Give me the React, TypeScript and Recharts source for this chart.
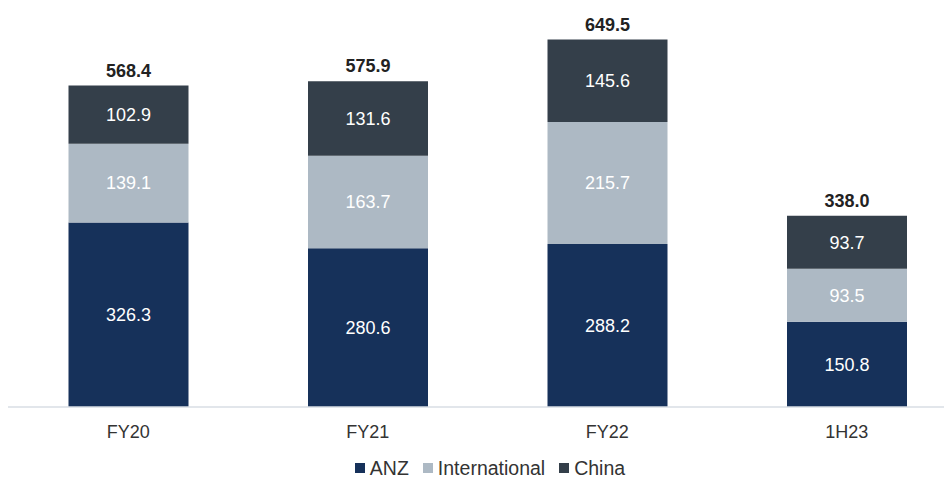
import React from "react";
import { BarChart, Bar, XAxis, YAxis, Legend, LabelList } from "recharts";

const categories = ["FY20", "FY21", "FY22", "1H23"];
const anz = [326.3, 280.6, 288.2, 150.8];
const international = [139.1, 163.7, 215.7, 93.5];
const china = [102.9, 131.6, 145.6, 93.7];
const totals = [568.4, 575.9, 649.5, 338.0];

const data = categories.map((c, i) => ({
  name: c,
  ANZ: anz[i],
  International: international[i],
  China: china[i],
  total: totals[i],
}));

const COLORS = { ANZ: "#16315A", International: "#ADB9C4", China: "#343F4A" };
const FONT = "Arial, 'Liberation Sans', sans-serif";
const LEGEND_KEYS = ["ANZ", "International", "China"] as const;

const renderLegend = () => (
  <div style={{ display: "flex", justifyContent: "center", fontFamily: FONT, fontSize: 19.5, color: "#333", lineHeight: "20px" }}>
    {LEGEND_KEYS.map((k, i) => (
      <span key={k} style={{ display: "inline-flex", alignItems: "center", marginRight: i < 2 ? 14 : 0 }}>
        <span style={{ width: 10, height: 10, background: COLORS[k], display: "inline-block", marginRight: 5 }} />
        {k}
      </span>
    ))}
  </div>
);

export default function App() {
  return (
    <div style={{ fontFamily: FONT }}>
      <BarChart
        width={936}
        height={474}
        data={data}
        margin={{ top: 3, right: 0, bottom: 0, left: 0 }}
        barCategoryGap={60}
      >
        <XAxis
          dataKey="name"
          padding={{ left: 0.5, right: -22.5 }}
          tickLine={false}
          axisLine={{ stroke: "#D9DEE4", strokeWidth: 1.5 }}
          tick={{ fill: "#333", fontSize: 18, fontFamily: FONT }}
          tickMargin={12}
          height={45}
        />
        <YAxis hide domain={[0, 700]} />
        <Legend content={renderLegend} verticalAlign="bottom" height={30} wrapperStyle={{ top: 450, left: 14 }} />
        <Bar dataKey="ANZ" stackId="a" fill={COLORS.ANZ} isAnimationActive={false}>
          <LabelList dataKey="ANZ" position="center" fill="#fff" fontSize={18} fontFamily={FONT} formatter={(v: number) => v.toFixed(1)} />
        </Bar>
        <Bar dataKey="International" stackId="a" fill={COLORS.International} isAnimationActive={false}>
          <LabelList dataKey="International" position="center" fill="#fff" fontSize={18} fontFamily={FONT} formatter={(v: number) => v.toFixed(1)} />
        </Bar>
        <Bar dataKey="China" stackId="a" fill={COLORS.China} isAnimationActive={false}>
          <LabelList dataKey="China" position="center" fill="#fff" fontSize={18} fontFamily={FONT} formatter={(v: number) => v.toFixed(1)} />
          <LabelList dataKey="total" position="top" offset={9} fill="#222" fontSize={18} fontWeight="bold" fontFamily={FONT} formatter={(v: number) => v.toFixed(1)} />
        </Bar>
      </BarChart>
    </div>
  );
}
